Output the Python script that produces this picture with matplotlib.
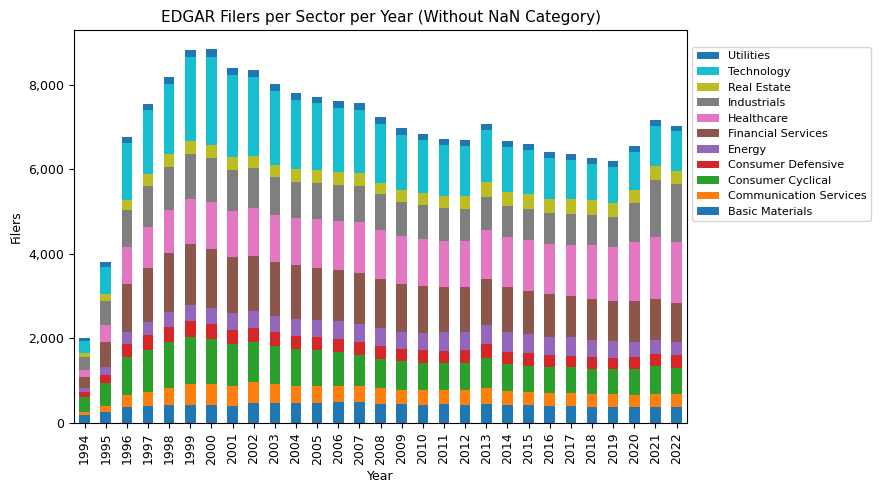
import pandas as pd
import matplotlib
matplotlib.use("Agg")
import matplotlib.pyplot as plt
import matplotlib.ticker as mticker

years = list(range(1994, 2023))

basic_materials = [189, 260, 379, 402, 426, 426, 426, 402, 473, 473, 473, 473, 497, 497, 450,
                   450, 426, 450, 426, 450, 426, 426, 402, 402, 379, 379, 379, 379, 379]
communication = [71, 142, 284, 332, 402, 497, 497, 474, 497, 450, 403, 403, 379, 379, 378,
                 331, 355, 331, 355, 378, 331, 308, 308, 308, 307, 307, 284, 307, 307]
consumer_cyclical = [355, 537, 899, 994, 1089, 1113, 1065, 994, 947, 900, 876, 852, 805, 734, 687,
                     687, 639, 639, 639, 711, 640, 615, 616, 616, 592, 592, 615, 663, 616]
consumer_defensive = [119, 197, 308, 355, 355, 378, 355, 331, 332, 331, 307, 308, 307, 307, 308,
                      284, 308, 284, 308, 331, 284, 308, 284, 260, 284, 261, 284, 284, 308]
energy = [94, 189, 284, 308, 355, 379, 379, 403, 402, 379, 403, 402, 426, 426, 426,
          402, 402, 450, 426, 450, 473, 450, 426, 450, 403, 402, 355, 332, 307]
financial = [261, 592, 1136, 1278, 1397, 1444, 1397, 1325, 1302, 1278, 1278, 1231, 1208, 1208, 1159,
             1136, 1113, 1065, 1065, 1088, 1065, 1017, 1017, 970, 970, 947, 971, 970, 923]
healthcare = [165, 403, 876, 970, 1018, 1065, 1112, 1089, 1136, 1112, 1112, 1160, 1159, 1207, 1160,
              1136, 1112, 1089, 1089, 1160, 1184, 1208, 1184, 1207, 1278, 1278, 1396, 1468, 1444]
industrials = [308, 568, 876, 971, 1018, 1065, 1042, 970, 947, 900, 852, 852, 852, 852, 852,
               805, 805, 781, 757, 781, 733, 733, 734, 734, 710, 710, 923, 1349, 1373]
real_estate = [95, 165, 236, 284, 307, 308, 307, 308, 284, 284, 308, 307, 308, 308, 261,
               284, 284, 284, 308, 355, 332, 355, 331, 355, 355, 331, 308, 331, 308]
technology = [284, 640, 1350, 1515, 1657, 1988, 2083, 1941, 1870, 1752, 1633, 1586, 1515, 1491, 1396,
              1302, 1255, 1207, 1184, 1232, 1065, 1042, 971, 923, 853, 853, 900, 947, 947]
utilities = [71, 118, 142, 142, 166, 166, 190, 166, 166, 165, 166, 142, 166, 165, 166,
             166, 142, 142, 142, 141, 142, 142, 142, 142, 142, 142, 142, 142, 118]

df = pd.DataFrame({
    'Basic Materials': basic_materials,
    'Communication Services': communication,
    'Consumer Cyclical': consumer_cyclical,
    'Consumer Defensive': consumer_defensive,
    'Energy': energy,
    'Financial Services': financial,
    'Healthcare': healthcare,
    'Industrials': industrials,
    'Real Estate': real_estate,
    'Technology': technology,
    'Utilities': utilities,
}, index=years)

fig, ax = plt.subplots(figsize=(8.81, 4.93), dpi=100)
fig.subplots_adjust(left=0.084, right=0.780, top=0.939, bottom=0.142)

df.plot(kind='bar', stacked=True, ax=ax)
ax.set_title('EDGAR Filers per Sector per Year (Without NaN Category)', fontsize=11)
ax.set_xlabel('Year', fontsize=9)
ax.set_ylabel('Filers', fontsize=9)
ax.tick_params(labelsize=9)
ax.yaxis.set_major_formatter(mticker.StrMethodFormatter('{x:,.0f}'))

handles, labels = ax.get_legend_handles_labels()
ax.legend(handles[::-1], labels[::-1], loc='upper left', bbox_to_anchor=(1.008, 0.957),
          borderaxespad=0, fontsize=8)

plt.savefig('out.png', dpi=100)
